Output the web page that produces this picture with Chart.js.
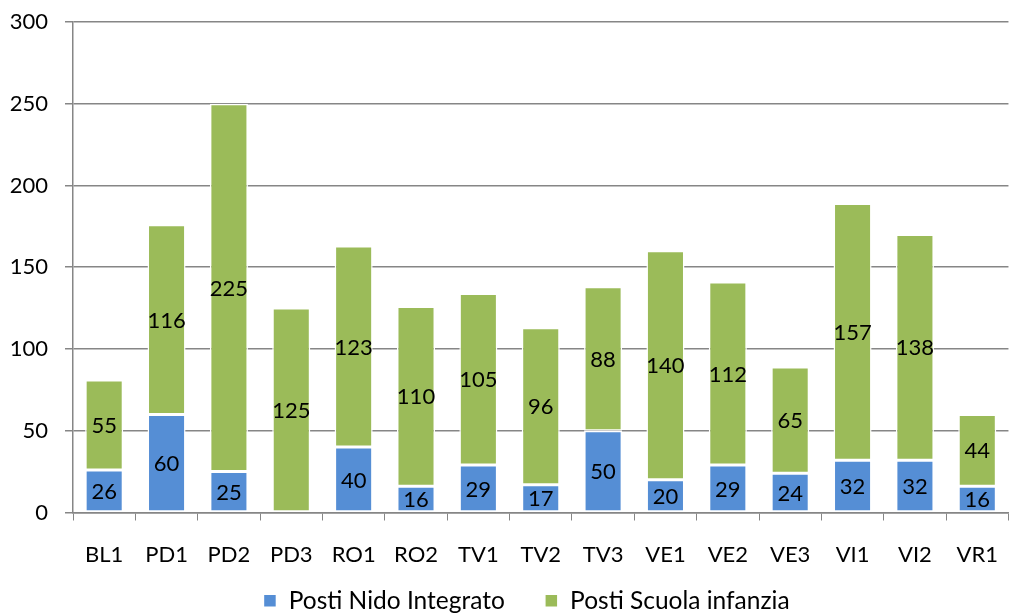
<!DOCTYPE html>
<html>
<head>
<meta charset="utf-8">
<script src="https://cdn.jsdelivr.net/npm/chart.js@4"></script>
<style>
  html, body { margin: 0; padding: 0; background: #fff; }
  #wrap { width: 1019px; height: 614px; position: relative; }
</style>
</head>
<body>
<div id="wrap"><canvas id="chart"></canvas></div>
<script>
// categories and series
const categories = ['BL1', 'PD1', 'PD2', 'PD3', 'RO1', 'RO2', 'TV1', 'TV2', 'TV3', 'VE1', 'VE2', 'VE3', 'VI1', 'VI2', 'VR1'];
const postiNido   = [26, 60, 25, 0, 40, 16, 29, 17, 50, 20, 29, 24, 32, 32, 16];
const postiScuola = [55, 116, 225, 125, 123, 110, 105, 96, 88, 140, 112, 65, 157, 138, 44];

const FONT = "Lato, 'Open Sans', sans-serif";
const GRID = '#868686';

// Draw the value in the middle of each bar segment (skip zeros)
const segmentLabels = {
  id: 'segmentLabels',
  afterDatasetsDraw(chart) {
    const ctx = chart.ctx;
    ctx.save();
    ctx.font = '22px ' + FONT;
    ctx.fillStyle = '#000';
    ctx.textAlign = 'center';
    ctx.textBaseline = 'middle';
    chart.data.datasets.forEach((ds, i) => {
      chart.getDatasetMeta(i).data.forEach((bar, j) => {
        const v = ds.data[j];
        if (!v) return;
        const { x, y, base } = bar.getProps(['x', 'y', 'base'], true);
        ctx.fillText(String(v), x, (y + base) / 2 + 1);
      });
    });
    ctx.restore();
  }
};

// tick labels sit outside their (trimmed) axis boxes: skip the clip
const noLabelClip = s => { s._computeLabelArea = () => undefined; };

new Chart(document.getElementById('chart'), {
  type: 'bar',
  data: {
    labels: categories,
    datasets: [
      {
        label: 'Posti Nido Integrato',
        data: postiNido,
        backgroundColor: '#558ED5',
        borderColor: '#ffffff',
        borderWidth: 1.5,
        borderSkipped: false,
        barPercentage: 0.61,
        categoryPercentage: 1
      },
      {
        label: 'Posti Scuola infanzia',
        data: postiScuola,
        backgroundColor: '#9BBB59',
        borderColor: '#ffffff',
        borderWidth: 1.5,
        borderSkipped: false,
        barPercentage: 0.61,
        categoryPercentage: 1
      }
    ]
  },
  options: {
    responsive: true,
    maintainAspectRatio: false,
    animation: false,
    layout: { padding: { top: 0, right: 0, left: 34, bottom: -9 } },
    plugins: {
      legend: {
        position: 'bottom',
        labels: {
          boxWidth: 13,
          boxHeight: 13,
          padding: 40,
          color: '#000',
          font: { family: FONT, size: 24.5 }
        }
      },
      tooltip: { enabled: false }
    },
    scales: {
      x: {
        stacked: true,
        offset: true,
        grid: {
          offset: true,
          drawOnChartArea: false,
          drawTicks: true,
          tickLength: 8,
          tickColor: GRID,
          color: GRID
        },
        border: { color: GRID, width: 1.5 },
        ticks: {
          color: '#000',
          padding: 21,
          font: { family: FONT, size: 22 },
          maxRotation: 0,
          autoSkip: false
        },
        afterFit: s => { s.height = 36; },
        afterUpdate: noLabelClip
      },
      y: {
        stacked: true,
        min: 0,
        max: 300,
        ticks: {
          stepSize: 50,
          color: '#000',
          padding: 17,
          font: { family: FONT, size: 22, lineHeight: 0.45 }
        },
        grid: {
          color: GRID,
          lineWidth: 1.5,
          tickLength: 8,
          tickColor: GRID
        },
        border: { color: GRID, width: 1.5 },
        afterFit: s => { s.width = 39; },
        afterUpdate: noLabelClip
      }
    }
  },
  plugins: [segmentLabels]
});
</script>
</body>
</html>
